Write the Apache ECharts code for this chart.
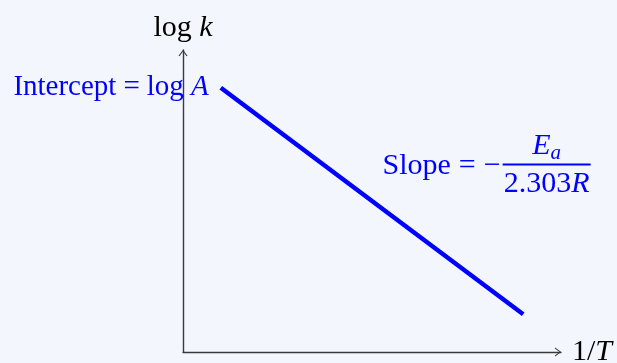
<!DOCTYPE html>
<html>
<head>
<meta charset="utf-8">
<script src="https://cdn.jsdelivr.net/npm/echarts@6/dist/echarts.min.js"></script>
<style>
  html, body { margin: 0; padding: 0; background: #f3f7fd; }
  #chart { width: 617px; height: 363px; }
</style>
</head>
<body>
<div id="chart"></div>
<script>
// Arrhenius plot: log k falls linearly with 1/T
const invT = [1, 9];          // 1/T, arbitrary units
const logK = [8.75, 1.25];    // log k
const axisRange = [0, 10];

const serif = '"Liberation Serif", "Times New Roman", Times, serif';
const blue = '#0000ff';
const ink = '#3a3a3a';
// open arrow head for both axes (tip at the top of the path box)
const chevron = 'path://M0,6 L4.5,0 L9,6 L8,6.3 L4.5,1.6 L1,6.3 Z';

const fs = 30;
const up = (extra) => Object.assign({ fontFamily: serif, fontSize: fs, color: blue, align: 'center' }, extra || {});
const it = (extra) => up(Object.assign({ fontStyle: 'italic' }, extra || {}));

const axisCommon = {
  type: 'value',
  min: axisRange[0],
  max: axisRange[1],
  splitLine: { show: false },
  axisTick: { show: false },
  axisLabel: { show: false },
  axisLine: {
    show: true,
    symbol: ['none', chevron],
    symbolSize: [9, 6.3],
    symbolOffset: [0, -3],
    lineStyle: { color: ink, width: 1.4 }
  },
  nameLocation: 'end'
};

const nameStyle = {
  fontFamily: serif, fontSize: fs, color: '#000',
  rich: {
    n: { fontFamily: serif, fontSize: fs, color: '#000' },
    i: { fontFamily: serif, fontSize: fs, color: '#000', fontStyle: 'italic' }
  }
};

const chart = echarts.init(document.getElementById('chart'), null, { renderer: 'canvas' });

chart.setOption({
  backgroundColor: '#f3f7fd',
  animation: false,
  grid: {
    left: 183, right: 56, top: 50, bottom: 11,
    containLabel: false,
    outerBoundsMode: 'none'
  },
  xAxis: Object.assign({}, axisCommon, {
    name: '{n|1/}{i|T}',
    nameGap: 11,
    nameTextStyle: nameStyle
  }),
  yAxis: Object.assign({}, axisCommon, {
    name: '{n|log }{i|k}',
    nameGap: 7,
    nameTextStyle: nameStyle
  }),
  series: [{
    type: 'line',
    symbol: 'circle',
    symbolSize: 0,
    lineStyle: { color: blue, width: 4.5, cap: 'butt' },
    itemStyle: { color: blue },
    data: invT.map((x, i) => i === 0
      ? {
          value: [x, logK[i]],
          label: {
            show: true,
            position: 'left',
            distance: 12,
            formatter: '{t|Intercept}{op|=}{t|log }{v|A}',
            rich: {
              t: up({ fontSize: 29 }),
              op: up({ fontSize: 29, padding: [0, 7] }),
              v: it({ fontSize: 29 })
            }
          }
        }
      : [x, logK[i]]),
    markPoint: {
      symbol: 'circle',
      symbolSize: 0,
      silent: true,
      data: [
        {
          coord: [9.62, 6.14],
          label: {
            show: true,
            position: 'inside',
            formatter: '{num|E}{sub|a}\n{bar| }\n{den|2.303}{deni|R}',
            rich: {
              num: it({ lineHeight: 34 }),
              sub: it({ fontSize: 21, lineHeight: 34, verticalAlign: 'bottom' }),
              bar: { width: 88, height: 2, lineHeight: 2, fontSize: 1, backgroundColor: blue, align: 'center' },
              den: up({ lineHeight: 38 }),
              deni: it({ lineHeight: 38 })
            }
          }
        },
        {
          coord: [9.62, 6.14],
          label: {
            show: true,
            position: 'left',
            distance: 46,
            formatter: '{t|Slope}{op|=}{t|\u2212}',
            rich: {
              t: up(),
              op: up({ padding: [0, 8] })
            }
          }
        }
      ]
    }
  }]
});
</script>
</body>
</html>
